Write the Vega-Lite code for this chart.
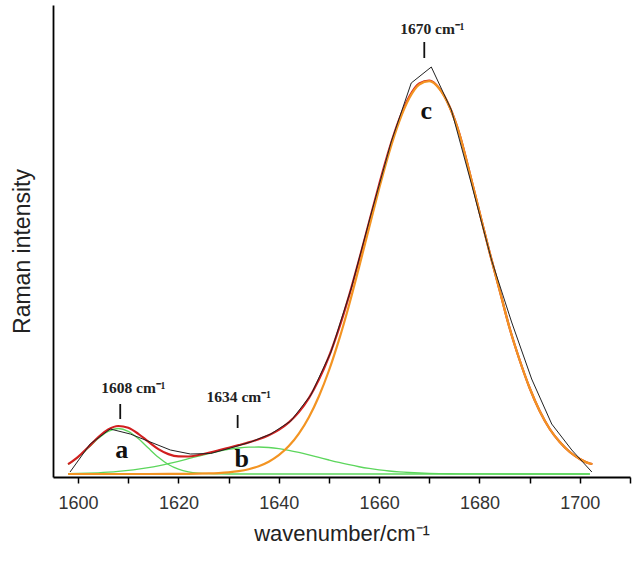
{
  "$schema": "https://vega.github.io/schema/vega-lite/v6.json",
  "width": 577,
  "height": 472,
  "autosize": {"type": "none"},
  "padding": {"left": 53, "top": 5, "right": 8, "bottom": 92},
  "background": "white",
  "config": {"view": {"stroke": null}, "axis": {"grid": false}},
  "datasets": {
    "curves": [
      {"s":"a","x":1598,"y":9.5},{"s":"a","x":1600,"y":16.7},{"s":"a","x":1602,"y":25.9},{"s":"a","x":1604,"y":35.4},{"s":"a","x":1606,"y":42.7},{"s":"a","x":1608,"y":45.5},{"s":"a","x":1610,"y":42.7},{"s":"a","x":1612,"y":35.4},{"s":"a","x":1614,"y":25.9},{"s":"a","x":1616,"y":16.7},{"s":"a","x":1618,"y":9.5},{"s":"a","x":1620,"y":4.8},{"s":"a","x":1622,"y":2.1},{"s":"a","x":1624,"y":0.8},{"s":"a","x":1626,"y":0.3},{"s":"a","x":1628,"y":0.1},{"s":"a","x":1630,"y":0},{"s":"a","x":1650,"y":0},{"s":"a","x":1680,"y":0},{"s":"a","x":1702,"y":0},
      {"s":"b","x":1598,"y":0.33},{"s":"b","x":1600,"y":0.53},{"s":"b","x":1602,"y":0.81},{"s":"b","x":1604,"y":1.21},{"s":"b","x":1606,"y":1.78},{"s":"b","x":1608,"y":2.54},{"s":"b","x":1610,"y":3.54},{"s":"b","x":1612,"y":4.81},{"s":"b","x":1614,"y":6.37},{"s":"b","x":1616,"y":8.23},{"s":"b","x":1618,"y":10.37},{"s":"b","x":1620,"y":12.74},{"s":"b","x":1622,"y":15.28},{"s":"b","x":1624,"y":17.86},{"s":"b","x":1626,"y":20.36},{"s":"b","x":1628,"y":22.65},{"s":"b","x":1630,"y":24.56},{"s":"b","x":1632,"y":25.98},{"s":"b","x":1634,"y":26.81},{"s":"b","x":1636,"y":26.98},{"s":"b","x":1638,"y":26.48},{"s":"b","x":1640,"y":25.35},{"s":"b","x":1642,"y":23.66},{"s":"b","x":1644,"y":21.54},{"s":"b","x":1646,"y":19.13},{"s":"b","x":1648,"y":16.57},{"s":"b","x":1650,"y":14.0},{"s":"b","x":1652,"y":11.53},{"s":"b","x":1654,"y":9.27},{"s":"b","x":1656,"y":7.26},{"s":"b","x":1658,"y":5.55},{"s":"b","x":1660,"y":4.14},{"s":"b","x":1662,"y":3.01},{"s":"b","x":1664,"y":2.13},{"s":"b","x":1666,"y":1.48},{"s":"b","x":1668,"y":1.0},{"s":"b","x":1670,"y":0.66},{"s":"b","x":1672,"y":0.42},{"s":"b","x":1674,"y":0.26},{"s":"b","x":1676,"y":0.16},{"s":"b","x":1680,"y":0.05},{"s":"b","x":1690,"y":0},{"s":"b","x":1702,"y":0},
      {"s":"c","x":1598,"y":0},{"s":"c","x":1610,"y":0},{"s":"c","x":1618,"y":0.04},{"s":"c","x":1620,"y":0.08},{"s":"c","x":1622,"y":0.15},{"s":"c","x":1624,"y":0.29},{"s":"c","x":1626,"y":0.53},{"s":"c","x":1628,"y":0.97},{"s":"c","x":1630,"y":1.7},{"s":"c","x":1632,"y":2.9},{"s":"c","x":1634,"y":4.8},{"s":"c","x":1636,"y":7.8},{"s":"c","x":1638,"y":12.3},{"s":"c","x":1640,"y":18.8},{"s":"c","x":1642,"y":27.9},{"s":"c","x":1644,"y":40.4},{"s":"c","x":1646,"y":56.8},{"s":"c","x":1648,"y":77.8},{"s":"c","x":1650,"y":103.5},{"s":"c","x":1652,"y":134.1},{"s":"c","x":1654,"y":168.8},{"s":"c","x":1656,"y":206.8},{"s":"c","x":1658,"y":246.3},{"s":"c","x":1660,"y":285.4},{"s":"c","x":1662,"y":321.6},{"s":"c","x":1664,"y":352.4},{"s":"c","x":1666,"y":375.7},{"s":"c","x":1668,"y":389.5},{"s":"c","x":1670,"y":392.8},{"s":"c","x":1672,"y":385.2},{"s":"c","x":1674,"y":367.5},{"s":"c","x":1676,"y":340},{"s":"c","x":1678,"y":302},{"s":"c","x":1680,"y":262},{"s":"c","x":1682,"y":222},{"s":"c","x":1684,"y":184},{"s":"c","x":1686,"y":146},{"s":"c","x":1688,"y":114},{"s":"c","x":1690,"y":86},{"s":"c","x":1692,"y":63},{"s":"c","x":1694,"y":45},{"s":"c","x":1696,"y":32},{"s":"c","x":1698,"y":22},{"s":"c","x":1700,"y":15},{"s":"c","x":1702,"y":10.5},{"s":"c","x":1702.5,"y":10},
      {"s":"fit","x":1598,"y":9.8},{"s":"fit","x":1600,"y":17.2},{"s":"fit","x":1602,"y":26.7},{"s":"fit","x":1604,"y":36.6},{"s":"fit","x":1606,"y":44.5},{"s":"fit","x":1608,"y":48.0},{"s":"fit","x":1610,"y":46.2},{"s":"fit","x":1612,"y":40.2},{"s":"fit","x":1614,"y":32.3},{"s":"fit","x":1616,"y":24.9},{"s":"fit","x":1618,"y":19.9},{"s":"fit","x":1620,"y":17.6},{"s":"fit","x":1622,"y":17.5},{"s":"fit","x":1624,"y":19.0},{"s":"fit","x":1626,"y":21.2},{"s":"fit","x":1628,"y":23.7},{"s":"fit","x":1630,"y":26.3},{"s":"fit","x":1632,"y":28.9},{"s":"fit","x":1634,"y":31.6},{"s":"fit","x":1636,"y":34.8},{"s":"fit","x":1638,"y":38.8},{"s":"fit","x":1640,"y":44.1},{"s":"fit","x":1642,"y":51.6},{"s":"fit","x":1644,"y":61.9},{"s":"fit","x":1646,"y":75.9},{"s":"fit","x":1648,"y":94.4},{"s":"fit","x":1650,"y":117.5},{"s":"fit","x":1652,"y":145.6},{"s":"fit","x":1654,"y":178.1},{"s":"fit","x":1656,"y":214.1},{"s":"fit","x":1658,"y":251.9},{"s":"fit","x":1660,"y":289.5},{"s":"fit","x":1662,"y":324.6},{"s":"fit","x":1664,"y":354.5},{"s":"fit","x":1666,"y":377.2},{"s":"fit","x":1668,"y":390.5},{"s":"fit","x":1670,"y":393.5},{"s":"fit","x":1672,"y":385.6},{"s":"fit","x":1674,"y":367.8},{"s":"fit","x":1676,"y":340.2},{"s":"fit","x":1678,"y":302.1},{"s":"fit","x":1680,"y":262},{"s":"fit","x":1682,"y":222},{"s":"fit","x":1684,"y":184},{"s":"fit","x":1686,"y":146},{"s":"fit","x":1688,"y":114},{"s":"fit","x":1690,"y":86},{"s":"fit","x":1692,"y":63},{"s":"fit","x":1694,"y":45},{"s":"fit","x":1696,"y":32},{"s":"fit","x":1698,"y":22},{"s":"fit","x":1700,"y":15},{"s":"fit","x":1702,"y":10.5},{"s":"fit","x":1702.5,"y":10},
      {"s":"data","x":1598.4,"y":2},{"s":"data","x":1602.4,"y":30},{"s":"data","x":1606.4,"y":45},{"s":"data","x":1610.4,"y":40},{"s":"data","x":1614.4,"y":32},{"s":"data","x":1618.4,"y":24},{"s":"data","x":1622.4,"y":20},{"s":"data","x":1626.4,"y":20.5},{"s":"data","x":1630.4,"y":26},{"s":"data","x":1634.4,"y":32},{"s":"data","x":1638.4,"y":40},{"s":"data","x":1642.4,"y":53},{"s":"data","x":1646.4,"y":79},{"s":"data","x":1650.4,"y":122},{"s":"data","x":1654.4,"y":185},{"s":"data","x":1658.4,"y":260},{"s":"data","x":1662.4,"y":332},{"s":"data","x":1666.4,"y":391},{"s":"data","x":1670.4,"y":407},{"s":"data","x":1674.4,"y":364},{"s":"data","x":1678.4,"y":290},{"s":"data","x":1682.4,"y":214},{"s":"data","x":1686.4,"y":152},{"s":"data","x":1690.4,"y":95},{"s":"data","x":1694.4,"y":50},{"s":"data","x":1698.4,"y":24},{"s":"data","x":1702.4,"y":2}
    ],
    "peaks": [
      {"t":"1608 cm⁻¹","x":1604.6,"y":81,"tx":1608.4,"y1":55,"y2":70},
      {"t":"1634 cm⁻¹","x":1625.6,"y":72,"tx":1631.8,"y1":46,"y2":59},
      {"t":"1670 cm⁻¹","x":1664.2,"y":440,"tx":1669.0,"y1":416,"y2":432}
    ],
    "letters": [
      {"t":"a","x":1608.7,"y":16},
      {"t":"b","x":1632.6,"y":7},
      {"t":"c","x":1669.4,"y":355}
    ]
  },
  "layer": [
    {
      "data": {"name": "curves"},
      "transform": [{"filter": "datum.s === 'a' || datum.s === 'b'"}],
      "mark": {"type": "line", "interpolate": "monotone", "color": "#5cd65c", "strokeWidth": 1.3},
      "encoding": {
        "x": {"field": "x", "type": "quantitative", "scale": {"domain": [1595, 1710], "nice": false, "zero": false},
          "axis": {"values": [1600,1610,1620,1630,1640,1650,1660,1670,1680,1690,1700,1710],
            "labelExpr": "datum.value % 20 === 0 ? datum.label : ''",
            "format": "d", "tickSize": 6, "tickColor": "#000", "tickWidth": 1.5, "domainColor": "#000", "domainWidth": 1.8,
            "labelFont": "Liberation Sans", "labelFontSize": 18, "labelColor": "#333", "labelPadding": 11, "labelFlush": false,
            "title": "wavenumber/cm⁻¹", "titleFont": "Liberation Sans", "titleFontSize": 22, "titleFontWeight": "normal", "titleColor": "#222",
            "titleY": 63, "titleBaseline": "alphabetic"}},
        "y": {"field": "y", "type": "quantitative", "scale": {"domain": [-3, 469], "nice": false, "zero": false},
          "axis": {"ticks": false, "labels": false, "domainColor": "#000", "domainWidth": 1.8,
            "title": "Raman intensity", "titleFont": "Liberation Sans", "titleFontSize": 23, "titleFontWeight": "normal", "titleColor": "#222",
            "titleX": -31, "titleY": 246, "titleAngle": -90, "titleAlign": "center", "titleBaseline": "middle"}},
        "detail": {"field": "s", "type": "nominal"}
      }
    },
    {
      "data": {"name": "curves"},
      "transform": [{"filter": "datum.s === 'fit'"}],
      "mark": {"type": "line", "interpolate": "monotone", "color": "#d11f1f", "strokeWidth": 2.2},
      "encoding": {"x": {"field": "x", "type": "quantitative"}, "y": {"field": "y", "type": "quantitative"}}
    },
    {
      "data": {"name": "curves"},
      "transform": [{"filter": "datum.s === 'c'"}],
      "mark": {"type": "line", "interpolate": "monotone", "color": "#f39422", "strokeWidth": 2.2},
      "encoding": {"x": {"field": "x", "type": "quantitative"}, "y": {"field": "y", "type": "quantitative"}}
    },
    {
      "data": {"name": "curves"},
      "transform": [{"filter": "datum.s === 'data'"}],
      "mark": {"type": "line", "color": "#222", "strokeWidth": 1},
      "encoding": {"x": {"field": "x", "type": "quantitative"}, "y": {"field": "y", "type": "quantitative"}}
    },
    {
      "data": {"name": "peaks"},
      "mark": {"type": "rule", "color": "#111", "strokeWidth": 1.8},
      "encoding": {"x": {"field": "tx", "type": "quantitative"}, "y": {"field": "y1", "type": "quantitative"}, "y2": {"field": "y2"}}
    },
    {
      "data": {"name": "peaks"},
      "mark": {"type": "text", "align": "left", "baseline": "alphabetic", "font": "Liberation Serif", "fontSize": 15.5, "fontWeight": "bold", "color": "#222"},
      "encoding": {"x": {"field": "x", "type": "quantitative"}, "y": {"field": "y", "type": "quantitative"}, "text": {"field": "t"}}
    },
    {
      "data": {"name": "letters"},
      "mark": {"type": "text", "align": "center", "baseline": "alphabetic", "font": "Liberation Serif", "fontSize": 26, "fontWeight": "bold", "color": "#111"},
      "encoding": {"x": {"field": "x", "type": "quantitative"}, "y": {"field": "y", "type": "quantitative"}, "text": {"field": "t"}}
    }
  ]
}
